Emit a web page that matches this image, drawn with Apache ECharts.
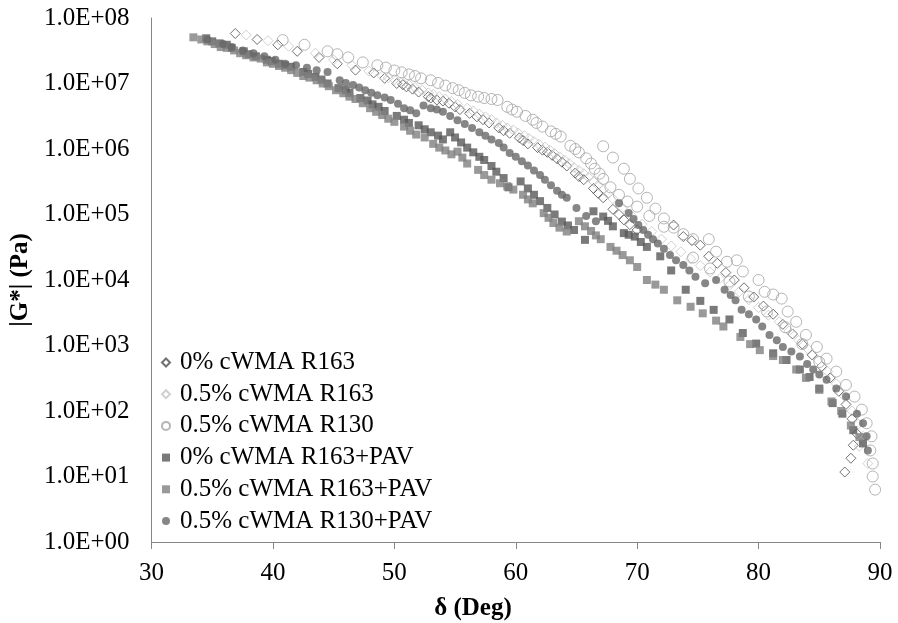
<!DOCTYPE html>
<html>
<head>
<meta charset="utf-8">
<script src="https://cdn.jsdelivr.net/npm/echarts@6/dist/echarts.min.js"></script>
<style>
html,body{margin:0;padding:0;background:#fff;}
#chart{width:898px;height:623px;}
</style>
</head>
<body>
<div id="chart"></div>
<script>
// ---- data: [delta (deg), |G*| (Pa)] ----
const seriesNames = ['0% cWMA R163','0.5% cWMA R163','0.5% cWMA R130','0% cWMA R163+PAV','0.5% cWMA R163+PAV','0.5% cWMA R130+PAV'];

const r163_0 = [
[36.9,5.8e7],[38.7,4.7e7],[40.4,3.9e7],[42.0,3.1e7],[43.8,2.5e7],[45.3,2.0e7],[46.8,1.6e7],[48.3,1.45e7],
[49.2,1.2e7],[50.2,1.0e7],[51.0,8.9e6],[52.0,7.4e6],[52.8,6.3e6],[53.5,5.6e6],[54.5,5.0e6],[55.4,4.0e6],
[56.2,3.5e6],[56.8,3.1e6],[57.8,2.5e6],[58.6,2.1e6],[59.5,1.74e6],[60.3,1.48e6],[61.0,1.2e6],[61.8,1.05e6],
[62.6,8.9e5],[63.4,7.1e5],[64.2,5.5e5],[64.9,4.3e5],[65.6,3.4e5],[66.4,2.5e5],[67.2,1.8e5],[68.0,1.2e5],
[68.9,8.3e4],[70.0,5.8e4],[73.0,6.9e4],[73.8,4.6e4],[74.5,4.0e4],[75.2,3.4e4],[75.9,2.3e4],[76.6,1.8e4],
[77.3,1.3e4],[78.0,1.0e4],[78.8,7.6e3],[79.6,5.5e3],[80.4,4.0e3],[81.2,3.0e3],[82.0,2.1e3],[82.8,1.5e3],
[83.6,1.05e3],[84.4,7.2e2],[85.2,4.8e2],[85.9,3.2e2],[86.6,2.0e2],[87.2,1.26e2],[87.7,76],[88.1,45],
[87.8,30],[87.6,19],[87.1,11.7],
[50.7,9.6e6],[51.5,8.2e6],[53.0,6.0e6],[54.0,5.4e6],[55.0,4.4e6],[57.3,2.8e6],[59.0,1.9e6],[60.6,1.35e6],
[62.2,9.6e5],[63.0,8.0e5],[63.8,6.3e5],[65.2,3.8e5],[66.8,2.1e5],[68.5,1.0e5],[69.4,7.0e4]
];

const r163_05 = [
[37.8,5.5e7],[39.6,4.5e7],[41.3,3.7e7],[43.5,2.9e7],[45.0,2.3e7],[46.5,1.9e7],[47.9,1.55e7],[49.0,1.3e7],
[50.0,1.15e7],[51.2,9.5e6],[52.3,7.9e6],[53.2,6.8e6],[54.2,5.8e6],[55.2,4.8e6],[56.0,4.2e6],[57.0,3.4e6],
[58.0,2.8e6],[58.9,2.3e6],[59.8,1.95e6],[60.7,1.6e6],[61.5,1.3e6],[62.4,1.07e6],[63.2,8.5e5],[64.0,6.8e5],
[64.8,5.2e5],[65.6,4.2e5],[66.4,3.2e5],[67.2,2.4e5],[68.0,1.74e5],[68.8,1.26e5],[69.6,9.3e4],[70.4,7.1e4],
[71.2,5.5e4],[72.0,4.2e4],[72.8,3.3e4],[73.6,2.7e4],[74.4,2.1e4],[75.2,1.66e4],[76.0,1.32e4],[76.8,1.05e4],
[77.6,8.3e3],[78.4,6.6e3],[79.2,5.0e3],[80.0,3.8e3],[80.8,2.9e3],[81.7,2.3e3],[82.5,1.66e3],[83.3,1.2e3],
[84.1,8.7e2],[84.9,6.0e2],[85.7,4.0e2],[86.4,2.6e2],[87.1,1.66e2],[87.7,100],[88.2,63],[88.6,41],
[88.3,29],[89.0,15.8],
[49.5,1.22e7],[50.6,1.05e7],[51.7,8.7e6],[52.8,7.2e6],[53.7,6.3e6],[54.7,5.3e6],[56.5,3.8e6],[57.5,3.1e6],
[58.4,2.5e6],[59.3,2.1e6],[60.2,1.75e6],[61.1,1.45e6],[61.9,1.18e6],[62.8,9.6e5],[63.6,7.6e5],[64.4,6.0e5],
[65.2,4.7e5],[66.0,3.7e5],[66.8,2.8e5],[67.6,2.05e5]
];

const r130_05 = [
[40.8,4.6e7],[42.6,3.9e7],[44.5,3.1e7],[46.2,2.5e7],[47.4,2.1e7],[48.6,1.9e7],[50.0,1.58e7],[51.2,1.38e7],
[52.2,1.2e7],[53.0,1.12e7],[54.2,9.3e6],[55.3,7.9e6],[56.3,6.6e6],[57.4,6.0e6],[58.5,5.6e6],[59.3,4.4e6],
[60.1,3.7e6],[60.8,3.2e6],[61.4,2.8e6],[62.2,2.2e6],[62.9,1.86e6],[63.7,1.55e6],[64.5,1.12e6],[65.2,8.9e5],
[65.8,7.2e5],[66.5,5.0e5],[67.2,3.5e5],[67.8,2.6e5],[68.5,2.0e5],[69.2,1.58e5],[70.0,1.32e5],[71.0,9.5e4],
[72.2,6.5e4],[67.2,1.1e6],[68.0,7.4e5],[68.9,5.0e5],[69.4,3.5e5],[70.1,2.5e5],[70.8,1.8e5],[71.5,1.23e5],
[72.2,8.7e4],[73.0,6.3e4],[73.8,5.0e4],[74.6,4.2e4],[75.9,4.2e4],[76.5,2.7e4],[77.4,1.9e4],[78.2,2.0e4],
[78.7,1.35e4],[80.0,1.0e4],[80.5,6.6e3],[81.2,6.0e3],[81.9,5.2e3],[82.4,3.3e3],[83.1,2.3e3],[83.9,1.45e3],
[84.8,9.5e2],[85.6,6.3e2],[86.4,4.0e2],[87.2,2.5e2],[87.9,1.66e2],[88.5,1.05e2],[88.9,65],[89.3,41],
[89.2,25],[89.4,15.8],[89.4,10],[89.6,6.3],[74.6,2.2e4],[76.0,1.5e4],[77.6,9.5e3],[79.2,5.6e3],
[80.7,3.3e3],[82.2,1.9e3],[83.6,1.05e3],[85.0,5.6e2],
[45.3,2.8e7],[49.3,1.75e7],[50.6,1.48e7],[51.7,1.3e7],[53.6,1.02e7],[54.8,8.5e6],[55.8,7.2e6],[56.9,6.3e6],
[58.0,5.8e6],[59.7,4.0e6],[61.7,2.5e6],[63.3,1.7e6],[64.9,1.0e6],[66.2,6.0e5],[66.9,4.2e5]
];

const r163_0_pav = [
[34.5,4.9e7],[35.6,4.1e7],[36.6,3.5e7],[37.6,3.1e7],[38.6,2.6e7],[39.5,2.3e7],[40.5,2.0e7],[41.5,1.8e7],
[42.5,1.5e7],[43.5,1.26e7],[44.5,1.0e7],[45.4,8.5e6],[46.3,7.2e6],[47.2,6.0e6],[48.2,4.8e6],[49.2,3.8e6],
[50.2,3.2e6],[51.2,2.5e6],[52.0,2.3e6],[53.0,1.8e6],[54.0,1.4e6],[54.6,1.8e6],[55.5,1.26e6],[56.5,8.9e5],
[57.4,6.8e5],[58.4,4.5e5],[59.4,2.6e5],[60.4,3.2e5],[61.5,2.0e5],[62.6,1.26e5],[63.8,7.8e4],[64.8,5.8e4],
[65.7,4.1e4],[66.4,1.12e5],[67.2,9.3e4],[68.0,6.6e4],[68.9,5.2e4],[69.8,4.6e4],[70.8,3.2e4],[71.9,2.3e4],
[72.8,1.4e4],[74.0,7.1e3],[75.2,4.8e3],[76.3,3.5e3],[77.6,2.5e3],[78.7,1.55e3],[79.8,1.07e3],[81.2,7.6e2],
[82.3,6.0e2],[83.4,4.3e2],[84.2,3.3e2],[85.0,2.2e2],[86.1,1.32e2],[86.9,91],[87.8,51],[88.6,32],
[35.0,4.4e7],[36.2,3.9e7],[38.0,2.8e7],[39.9,2.2e7],[41.0,1.9e7],[42.9,1.4e7],[44.0,1.15e7],[46.0,7.9e6],
[47.8,5.5e6],[48.7,4.4e6],[50.8,2.8e6],[52.5,2.0e6],[53.6,1.6e6],[55.0,1.5e6],[56.0,1.05e6],[57.0,7.6e5],
[58.0,5.5e5],[59.0,3.6e5],[61.0,2.5e5],[62.0,1.6e5],[63.2,1.0e5],[64.3,6.8e4],[67.6,8.0e4],[69.3,4.9e4],
[70.3,3.8e4]
];

const r163_05_pav = [
[33.45,5.07e7],[34.6,4.4e7],[35.7,3.6e7],[36.8,3.2e7],[37.8,2.7e7],[39.0,2.4e7],[40.0,2.0e7],[41.0,1.74e7],
[42.0,1.45e7],[43.0,1.23e7],[43.6,1.12e7],[44.6,9.1e6],[45.8,7.1e6],[46.8,5.8e6],[48.0,4.2e6],[49.0,3.3e6],
[50.0,2.6e6],[50.8,2.2e6],[51.8,1.66e6],[52.5,1.5e6],[53.2,1.2e6],[54.2,9.5e5],[55.2,9.1e5],[56.0,6.0e5],
[56.9,4.8e5],[58.0,3.4e5],[58.7,3.0e5],[59.8,2.4e5],[60.6,2.0e5],[61.4,1.48e5],[62.3,1.05e5],[63.1,7.4e4],
[64.2,5.5e4],[65.2,7.9e4],[66.2,5.6e4],[67.0,4.2e4],[67.8,3.2e4],[68.8,2.4e4],[70.0,1.58e4],[70.8,1.0e4],
[72.2,7.1e3],[73.3,4.9e3],[74.4,3.9e3],[75.4,3.1e3],[76.5,2.4e3],[77.1,1.95e3],[78.5,1.35e3],[79.3,1.05e3],
[80.1,8.5e2],[81.2,6.9e2],[82.0,6.0e2],[83.1,4.3e2],[83.9,3.2e2],[85.0,2.1e2],[86.0,1.4e2],[86.8,100],
[87.6,60],[88.3,40],
[34.1,4.7e7],[35.2,4.0e7],[36.2,3.5e7],[37.3,2.9e7],[38.4,2.5e7],[39.5,2.1e7],[40.5,1.85e7],[41.5,1.6e7],
[42.5,1.3e7],[44.1,1.0e7],[45.2,7.9e6],[46.3,6.3e6],[47.4,5.0e6],[48.5,3.7e6],[49.5,2.9e6],[51.3,1.9e6],
[53.7,1.05e6],[54.7,8.3e5],[55.6,7.4e5],[57.4,4.0e5],[59.3,2.7e5],[61.0,1.7e5],[62.7,8.9e4],[63.6,6.3e4],
[65.7,6.6e4],[66.6,4.8e4],[68.3,2.8e4],[69.4,2.0e4],[71.5,8.5e3]
];

const r130_05_pav = [
[34.6,4.7e7],[35.9,4.0e7],[37.5,3.2e7],[39.3,2.6e7],[41.0,2.0e7],[42.8,1.74e7],[44.5,1.5e7],[45.5,1.12e7],
[46.6,9.5e6],[47.6,7.9e6],[48.6,6.6e6],[49.7,5.6e6],[50.8,4.2e6],[51.8,3.5e6],[53.0,4.2e6],[54.0,3.7e6],
[55.2,2.75e6],[56.4,2.1e6],[57.5,1.6e6],[58.6,1.23e6],[59.5,8.7e5],[60.5,6.5e5],[61.5,4.7e5],[62.4,3.4e5],
[63.4,2.3e5],[64.2,1.8e5],[65.0,1.26e5],[65.8,9.5e4],[66.6,7.9e4],[68.5,1.48e5],[69.3,1.05e5],[70.1,6.9e4],
[70.9,4.9e4],[71.7,3.6e4],[72.7,2.4e4],[73.8,1.7e4],[74.8,1.12e4],[75.6,8.9e3],[76.5,1.0e4],[77.2,7.1e3],
[78.1,4.9e3],[78.6,3.5e3],[79.8,2.5e3],[80.9,1.45e3],[82.0,9.5e2],[83.4,6.8e2],[84.5,4.3e2],[85.6,3.0e2],
[86.4,2.2e2],[87.2,1.66e2],[88.1,91],[88.6,65],[88.9,41],[89.0,25],
[36.6,3.6e7],[38.4,2.9e7],[40.2,2.3e7],[41.9,1.9e7],[43.6,1.6e7],[46.0,1.02e7],[47.1,8.7e6],[48.1,7.2e6],
[49.2,6.1e6],[50.3,4.9e6],[51.3,3.9e6],[52.4,4.6e6],[53.5,4.0e6],[54.6,3.2e6],[55.8,2.4e6],[57.0,1.8e6],
[58.0,1.4e6],[59.0,1.05e6],[60.0,7.6e5],[61.0,5.6e5],[62.0,4.0e5],[62.9,2.8e5],[63.8,2.0e5],[69.7,8.5e4],
[70.5,5.8e4],[71.3,4.2e4],[72.2,3.0e4],[73.2,2.0e4],[74.3,1.4e4],[77.7,5.9e3],[79.2,3.0e3],[80.3,1.95e3],
[81.5,1.2e3],[82.7,8.1e2],[84.0,5.2e2],[85.0,3.6e2]
];

const xTicks = [30,40,50,60,70,80,90];
const yTickLabels = ['1.0E+00','1.0E+01','1.0E+02','1.0E+03','1.0E+04','1.0E+05','1.0E+06','1.0E+07','1.0E+08'];

const FONT = "'Liberation Serif','Times New Roman',serif";
const chart = echarts.init(document.getElementById('chart'), null, {renderer:'canvas'});

function sc(name, data, symbol, size, style){
  return {name, type:'scatter', data, symbol, symbolSize:size, itemStyle:style, animation:false};
}

const option = {
  backgroundColor:'#ffffff',
  animation:false,
  grid:{left:151, right:18, top:18, bottom:81, containLabel:false},
  xAxis:{
    type:'value', min:xTicks[0], max:xTicks[xTicks.length-1], interval:10,
    axisLine:{show:true, lineStyle:{color:'#868686', width:1}},
    axisTick:{show:true, length:7, lineStyle:{color:'#868686'}},
    splitLine:{show:false},
    axisLabel:{color:'#000', fontFamily:FONT, fontSize:25, margin:19}
  },
  yAxis:{
    type:'log', logBase:10, min:1, max:1e8, splitNumber:8,
    axisLine:{show:true, lineStyle:{color:'#868686', width:1}},
    axisTick:{show:false},
    splitLine:{show:false},
    axisLabel:{color:'#000', fontFamily:FONT, fontSize:25, margin:22,
      formatter:function(v){ const e = Math.round(Math.log10(v)); return yTickLabels[e] || ''; }},
    name:'|G*| (Pa)', nameLocation:'middle', nameGap:105, nameRotate:90,
    nameTextStyle:{color:'#000', fontFamily:FONT, fontSize:25, fontWeight:'bold'}
  },
  legend:{
    orient:'vertical', left:156, top:345, itemGap:6.7, itemWidth:8, itemHeight:8,
    textStyle:{color:'#000', fontFamily:FONT, fontSize:25, padding:[0,0,0,5]},
    data:seriesNames
  },
  graphic:[{
    type:'text', x:473, y:609,
    style:{text:'δ (Deg)', font:"bold 25px 'Liberation Serif','Times New Roman',serif", fill:'#000', align:'center', verticalAlign:'middle'}
  }],
  series:[
    sc(seriesNames[0], r163_0, 'diamond', 10, {color:'rgba(0,0,0,0)', borderColor:'#4d4d4d', borderWidth:1}),
    sc(seriesNames[1], r163_05, 'diamond', 10, {color:'rgba(0,0,0,0)', borderColor:'#c4c4c4', borderWidth:1}),
    sc(seriesNames[2], r130_05, 'circle', 11, {color:'rgba(0,0,0,0)', borderColor:'#a3a3a3', borderWidth:1}),
    sc(seriesNames[3], r163_0_pav, 'rect', 8, {color:'#595959'}),
    sc(seriesNames[4], r163_05_pav, 'rect', 8, {color:'#808080'}),
    sc(seriesNames[5], r130_05_pav, 'circle', 8, {color:'#686868'})
  ]
};
chart.setOption(option);
</script>
</body>
</html>
